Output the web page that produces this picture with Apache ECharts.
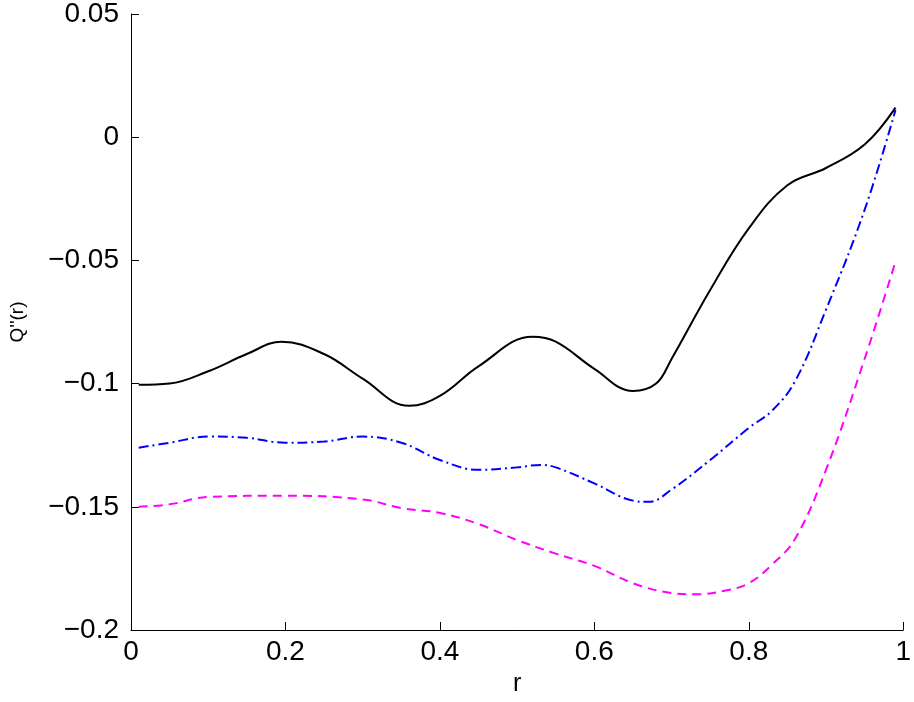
<!DOCTYPE html>
<html>
<head>
<meta charset="utf-8">
<script src="https://cdn.jsdelivr.net/npm/echarts@6/dist/echarts.min.js"></script>
<style>html,body{margin:0;padding:0;background:#fff}#c{width:914px;height:702px}</style>
</head>
<body>
<div id="c"></div>
<script>
var rBlack = [0.01,0.05,0.1,0.15,0.195,0.25,0.3,0.36,0.4,0.45,0.52,0.55,0.6,0.65,0.68,0.7,0.75,0.8,0.85,0.9,0.95,0.99];
var qBlack = [-0.1005,-0.1,-0.095,-0.088,-0.083,-0.088,-0.098,-0.109,-0.105,-0.093,-0.081,-0.083,-0.094,-0.103,-0.1,-0.09,-0.062,-0.037,-0.0195,-0.0125,-0.003,0.012];
var rBlue = [0.01,0.05,0.1,0.15,0.2,0.25,0.3,0.35,0.4,0.45,0.5,0.53,0.55,0.6,0.65,0.67,0.7,0.75,0.8,0.83,0.86,0.9,0.95,0.99];
var qBlue = [-0.126,-0.124,-0.1215,-0.122,-0.124,-0.1235,-0.1215,-0.124,-0.131,-0.135,-0.134,-0.133,-0.134,-0.1405,-0.1475,-0.148,-0.143,-0.131,-0.118,-0.111,-0.099,-0.07,-0.0295,0.011];
var rMag = [0.01,0.05,0.1,0.2,0.3,0.35,0.4,0.45,0.5,0.55,0.6,0.65,0.7,0.73,0.77,0.8,0.83,0.86,0.9,0.95,0.99];
var qMag = [-0.15,-0.149,-0.146,-0.1455,-0.147,-0.1505,-0.1525,-0.157,-0.1635,-0.169,-0.174,-0.181,-0.185,-0.1855,-0.184,-0.181,-0.1735,-0.163,-0.135,-0.09,-0.0505];

function pairs(xs, ys) { return xs.map(function (x, i) { return [x, ys[i]]; }); }

var chart = echarts.init(document.getElementById('c'));
var axisCommon = {
  axisLine: { show: true, onZero: false, lineStyle: { color: '#000', width: 1 } },
  axisTick: { inside: true, length: 8, lineStyle: { color: '#000' } },
  axisLabel: { color: '#000', fontSize: 28, fontFamily: 'Liberation Sans' },
  splitLine: { show: false }
};
chart.setOption({
  animation: false,
  grid: { left: 128, right: 4, top: 14, bottom: 72 },
  xAxis: Object.assign({
    type: 'value', min: 0, max: 1, interval: 0.2,
    name: 'r', nameLocation: 'middle', nameGap: 42,
    nameTextStyle: { fontSize: 25, color: '#000', fontFamily: 'Liberation Sans' }
  }, axisCommon),
  yAxis: Object.assign({
    type: 'value', min: -0.2, max: 0.05, interval: 0.05,
    name: "Q''(r)", nameLocation: 'middle', nameGap: 104,
    nameTextStyle: { fontSize: 19, color: '#000', fontFamily: 'Liberation Sans' }
  }, axisCommon, {
    axisLabel: { color: '#000', fontSize: 28, fontFamily: 'Liberation Sans', margin: 12,
      formatter: function (v) { return v === 0 ? '0' : String(Math.round(v * 100) / 100).replace('-', '\u2212'); } }
  }),
  series: [
    { type: 'line', data: pairs(rBlack, qBlack), smooth: 0.4, showSymbol: false, lineStyle: { color: '#000', width: 2 } },
    { type: 'line', data: pairs(rBlue, qBlue), smooth: 0.4, showSymbol: false, lineStyle: { color: '#0000ff', width: 2, type: [10, 4, 2, 4] } },
    { type: 'line', data: pairs(rMag, qMag), smooth: 0.4, showSymbol: false, lineStyle: { color: '#ff00ff', width: 2, type: [9, 6] } }
  ]
});
</script>
</body>
</html>
